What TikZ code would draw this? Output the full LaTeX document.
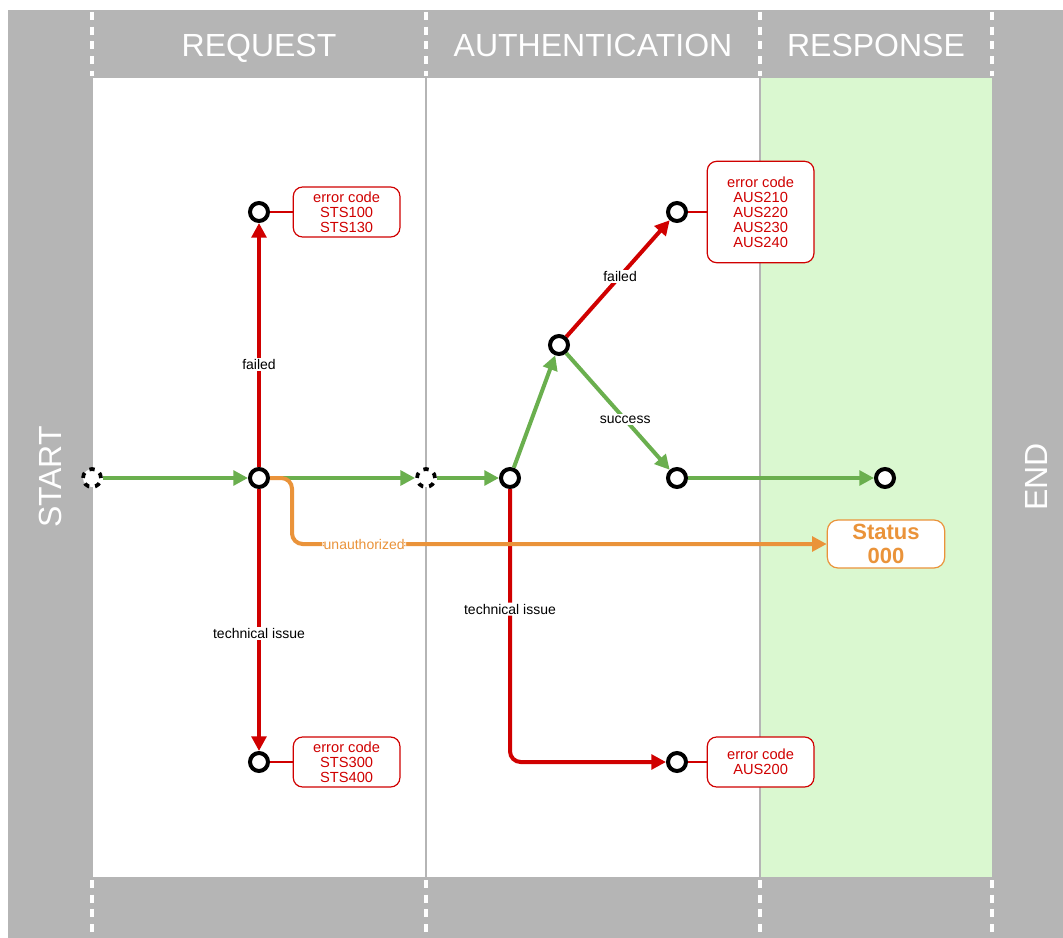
\documentclass[tikz,border=0pt]{standalone}
\usepackage{fontspec}
\setmainfont{Liberation Sans}
\usepackage{xcolor}
\usetikzlibrary{positioning}
\usetikzlibrary{arrows.meta}
\definecolor{lanegray}{HTML}{B5B5B5}
\definecolor{respgreen}{HTML}{DAF8D0}
\definecolor{okgreen}{HTML}{6AAF4E}
\definecolor{errred}{HTML}{D00000}
\definecolor{warnorange}{HTML}{EA933A}
\tikzset{
    event/.style={draw=black,line width=3pt,shape=circle,fill=white,minimum size=13.5pt,inner sep=0pt},
    gate/.style={event,line width=2.8pt,dash pattern=on 4pt off 4.5pt},
    flow/.style={line width=3pt,-{Triangle[length=11pt,width=11pt]}},
    okflow/.style={flow,draw=okgreen},
    errflow/.style={flow,draw=errred},
    warnflow/.style={flow,draw=warnorange,rounded corners=8pt},
    lbl/.style={fill=white,text=black,inner sep=1pt,font=\fontsize{10.5}{11}\selectfont},
    errbox/.style={draw=errred,line width=0.9pt,rounded corners=7pt,fill=white,text=errred,
        align=center,minimum width=80pt,minimum height=37.5pt,inner sep=2pt,
        font=\fontsize{11}{11.3}\selectfont},
    title/.style={text=white,anchor=base,font=\fontsize{24}{28}\selectfont},
}
\begin{document}
\begin{tikzpicture}[x=0.75pt,y=-0.75pt]
    \useasboundingbox (0,0) rectangle (1063,938);
    \fill[white] (0,0) rectangle (1063,938);
    \fill[lanegray] (8,10) rectangle (1063,938);
    \fill[white] (93,78) rectangle (760,877);
    \fill[respgreen] (760,78) rectangle (992,877);
    \foreach \x in {426,760} {
        \draw[lanegray,line width=1.6pt] (\x,78) -- (\x,877);
    }
    \foreach \x in {92,426,760,992} {
        \draw[white,line width=2.4pt,dash pattern=on 6pt off 5pt] (\x,12) -- (\x,76);
        \draw[white,line width=2.4pt,dash pattern=on 6pt off 5pt] (\x,880) -- (\x,938);
    }
    \node (request) [title] at (259,57) {REQUEST};
    \node (auth) [title] at (593,57) {AUTHENTICATION};
    \node (response) [title] at (876,57) {RESPONSE};
    \node (startlbl) [title,anchor=center,rotate=90] at (50,477) {START};
    \node (endlbl) [title,anchor=center,rotate=90] at (1036,477) {END};

    \node (start) [gate] at (92,478) {};
    \node (req) [event] at (259,478) {};
    \node (reqfail) [event] at (259,212) {};
    \node (reqtech) [event] at (259,762) {};
    \node (authgate) [gate] at (426,478) {};
    \node (auth1) [event] at (510,478) {};
    \node (auth2) [event] at (559,345) {};
    \node (authfail) [event] at (677,212) {};
    \node (authok) [event] at (677,478) {};
    \node (authtech) [event] at (677,762) {};
    \node (done) [event] at (885,478) {};

    \node (reqfailbox) [errbox,right=17pt of reqfail] {error code\\STS100\\STS130};
    \node (reqtechbox) [errbox,right=17pt of reqtech] {error code\\STS300\\STS400};
    \node (authfailbox) [errbox,right=14pt of authfail,minimum height=76pt] {error code\\AUS210\\AUS220\\AUS230\\AUS240};
    \node (authtechbox) [errbox,right=14pt of authtech] {error code\\AUS200};
    \node (status) [draw=warnorange,line width=0.9pt,rounded corners=8pt,fill=white,text=warnorange,
        align=center,minimum width=88pt,minimum height=36pt,inner sep=2pt,
        font=\fontsize{16.5}{17.5}\selectfont\bfseries] at (886,544) {Status\\000};

    \foreach \a/\b in {reqfail/reqfailbox,reqtech/reqtechbox,authfail/authfailbox,authtech/authtechbox} {
        \draw[errred,line width=0.9pt] (\a) -- (\b);
    }

    \draw[okflow] (start) -- (req);
    \draw[okflow] (req) -- (authgate);
    \draw[okflow] (authgate) -- (auth1);
    \draw[okflow] (auth1) -- (auth2);
    \draw[okflow] (auth2) -- node[lbl,pos=0.57] {success} (authok);
    \draw[okflow] (authok) -- (done);

    \draw[errflow] (req) -- node[lbl,pos=0.42] {failed} (reqfail);
    \draw[errflow] (req) -- node[lbl,pos=0.55] {technical issue} (reqtech);
    \draw[errflow] (auth2) -- node[lbl,pos=0.52] {failed} (authfail);
    \draw[errflow,rounded corners=8pt] (auth1) |- node[lbl,pos=0.22] {technical issue} (authtech);

    \coordinate (unauthbend) at (292,544);
    \draw[warnflow] (req.east) -| (unauthbend) -- node[lbl,text=warnorange,pos=0.135] {unauthorized} (status);
\end{tikzpicture}
\end{document}
